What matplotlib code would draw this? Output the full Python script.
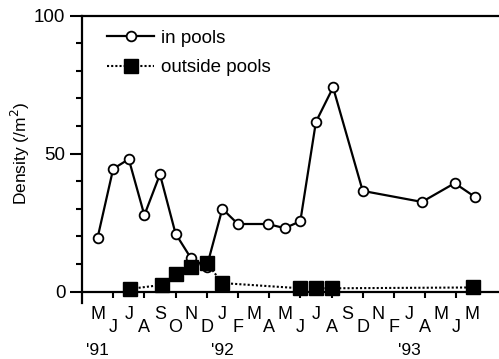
import matplotlib
matplotlib.use('Agg')
from matplotlib import pyplot as plt
import numpy as np

plt.rcParams['font.family'] = ['Liberation Sans', 'DejaVu Sans']

# month index: 0 = May 1991
pool_months = [0, 1, 2, 3, 4, 5, 6, 7, 8, 9, 10.9, 12, 13, 14, 15.1, 17, 20.8, 22.9, 24.2]
pool_density = [19.5, 44.5, 48, 27.7, 42.5, 21, 12, 9, 30, 24.5, 24.5, 23, 25.5, 61.5, 74, 36.5, 32.5, 39.3, 34.3]

out_months = [2.1, 4.1, 5.0, 6.0, 7.0, 8.0, 13, 14, 15, 24.1]
out_density = [1, 2.4, 6.4, 9, 10.4, 3.1, 1.2, 1.2, 1.2, 1.5]

month_labels = ['M', 'J', 'J', 'A', 'S', 'O', 'N', 'D', 'J', 'F', 'M', 'A', 'M',
                'J', 'J', 'A', 'S', 'D', 'N', 'F', 'J', 'A', 'M', 'J', 'M']
year_labels = ["'91", "'92", "'93"]
year_months = [0, 8, 20]

fig = plt.figure(figsize=(4.99, 3.59), dpi=100)
ax = fig.add_axes([0.1643, 0.157, 0.8357, 0.7993])

ax.plot(pool_months, pool_density, '-o', color='black', lw=1.6, ms=7,
        mfc='white', mec='black', mew=1.3, label='in pools', zorder=3)
ax.plot(out_months, out_density, linestyle=(0, (1, 1)), marker='s', color='black',
        lw=1.5, ms=9.5, label='outside pools', zorder=4)

ax.set_xlim(-1, 25.74)
ax.set_ylim(-4, 100)

# spines
ax.spines['right'].set_visible(False)
ax.spines['bottom'].set_position(('data', 0))
for s in ['left', 'top', 'bottom']:
    ax.spines[s].set_linewidth(1.6)

# y ticks
ax.set_yticks([0, 50, 100])
ax.set_yticks(np.arange(0, 101, 10), minor=True)
ax.tick_params(axis='y', which='major', length=9, width=1.5, labelsize=13.5, pad=3)
ax.tick_params(axis='y', which='minor', length=4.5, width=1.5)
ax.set_ylabel('Density (/m$^2$)', fontsize=12.5)
ax.yaxis.set_label_coords(-0.12, 0.52)

# x ticks every other month, labels placed by hand in two rows
ax.set_xticks(np.arange(1, 24, 2))
ax.set_xticklabels([])
ax.tick_params(axis='x', length=4, width=1.5, direction='out')
for i, lab in enumerate(month_labels):
    dy = -0.01 if i % 2 == 0 else -0.058
    ax.text(i, dy, lab, transform=ax.get_xaxis_transform(), ha='center', va='top',
            fontsize=13, clip_on=False)
for m, lab in zip(year_months, year_labels):
    ax.text(m, -0.14, lab, transform=ax.get_xaxis_transform(), ha='center', va='top',
            fontsize=12.5, clip_on=False)

ax.legend(loc='upper left', bbox_to_anchor=(0.02, 1.01), frameon=False, fontsize=13.5,
          handlelength=2.5, labelspacing=0.65, handletextpad=0.35)

plt.savefig('out.png', dpi=100)
